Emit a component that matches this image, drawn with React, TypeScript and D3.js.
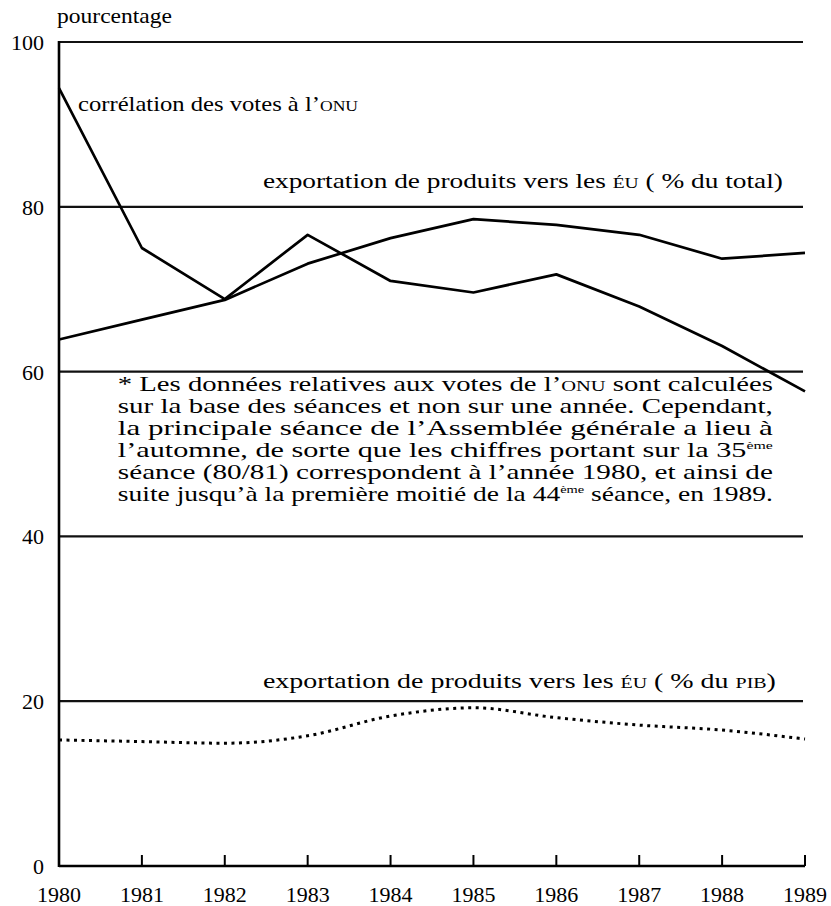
import React, { useEffect, useRef } from 'react'
import * as d3 from 'd3'

const years = [1980, 1981, 1982, 1983, 1984, 1985, 1986, 1987, 1988, 1989]
const unVotes = [94.4, 75.0, 68.8, 76.6, 71.0, 69.6, 71.8, 67.9, 63.1, 57.6]
const exportsTotal = [63.9, 66.3, 68.7, 73.1, 76.2, 78.5, 77.8, 76.6, 73.7, 74.4]
const exportsGdp = [15.3, 15.1, 14.9, 15.8, 18.2, 19.2, 18.0, 17.1, 16.5, 15.4]
const yTicks = [0, 20, 40, 60, 80, 100]

const footnote = [
  ['* Les données relatives aux votes de l’', 'ONU', ' sont calculées'],
  ['sur la base des séances et non sur une année. Cependant,'],
  ['la principale séance de l’Assemblée générale a lieu à'],
  ['l’automne, de sorte que les chiffres portant sur la 35', '^ème'],
  ['séance (80/81) correspondent à l’année 1980, et ainsi de'],
  ['suite jusqu’à la première moitié de la 44', '^ème', ' séance, en 1989.'],
]

const FONT = '"Liberation Serif", "Times New Roman", serif'

export default function App() {
  const svgRef = useRef<SVGSVGElement>(null)

  useEffect(() => {
    if (!svgRef.current) return
    const svg = d3.select(svgRef.current)
    svg.selectAll('*').remove()

    const W = 831
    const H = 906
    const left = 59
    const right = 805
    const top = 42
    const bottom = 866

    svg.attr('width', W).attr('height', H)

    const x = d3.scaleLinear().domain([1980, 1989]).range([left, right])
    const y = d3.scaleLinear().domain([0, 100]).range([bottom, top])

    const g = svg.append('g').attr('font-family', FONT).style('fill', '#000')

    // horizontal rules
    g.selectAll('line.grid')
      .data(yTicks.filter(t => t > 0))
      .enter()
      .append('line')
      .attr('x1', left)
      .attr('x2', right - 2)
      .attr('y1', d => y(d))
      .attr('y2', d => y(d))
      .attr('stroke', '#111')
      .attr('stroke-width', 2.2)

    // axes
    g.append('line')
      .attr('x1', left).attr('x2', left)
      .attr('y1', y(100) - 1).attr('y2', y(0) + 1)
      .attr('stroke', '#000').attr('stroke-width', 2.6)
    g.append('line')
      .attr('x1', left).attr('x2', right)
      .attr('y1', y(0)).attr('y2', y(0))
      .attr('stroke', '#000').attr('stroke-width', 2.6)

    // ticks pointing up
    g.selectAll('line.tick')
      .data(years.slice(1))
      .enter()
      .append('line')
      .attr('x1', d => x(d)).attr('x2', d => x(d))
      .attr('y1', y(0)).attr('y2', y(0) - 11)
      .attr('stroke', '#000').attr('stroke-width', 2)

    g.selectAll('text.ylab')
      .data(yTicks)
      .enter()
      .append('text')
      .attr('x', 44)
      .attr('y', d => y(d) + 8)
      .attr('text-anchor', 'end')
      .style('font-size', '22px')
      .text(d => d)

    g.selectAll('text.xlab')
      .data(years)
      .enter()
      .append('text')
      .attr('x', d => x(d))
      .attr('y', 902)
      .attr('text-anchor', 'middle')
      .style('font-size', '22px')
      .text(d => d)

    g.append('text')
      .attr('x', 57)
      .attr('y', 23)
      .attr('textLength', 115)
      .attr('lengthAdjust', 'spacingAndGlyphs')
      .style('font-size', '21px')
      .text('pourcentage')

    const line = (vals: number[]) =>
      d3.line<number>()
        .x((_, i) => x(years[i]))
        .y(d => y(d))(vals)

    g.append('path')
      .attr('d', line(unVotes))
      .attr('fill', 'none')
      .attr('stroke', '#000')
      .attr('stroke-width', 2.7)
      .attr('stroke-linejoin', 'round')

    g.append('path')
      .attr('d', line(exportsTotal))
      .attr('fill', 'none')
      .attr('stroke', '#000')
      .attr('stroke-width', 2.7)
      .attr('stroke-linejoin', 'round')

    g.append('path')
      .attr('d', d3.line<number>()
        .x((_, i) => x(years[i]))
        .y(d => y(d))
        .curve(d3.curveMonotoneX)(exportsGdp))
      .attr('fill', 'none')
      .attr('stroke', '#000')
      .attr('stroke-width', 3)
      .attr('stroke-dasharray', '3 4.5')

    // series labels
    const label = (xv: number, yv: number, width: number, parts: [string, boolean][]) => {
      const t = g.append('text')
        .attr('x', x(xv))
        .attr('y', y(yv))
        .attr('textLength', width)
        .attr('lengthAdjust', 'spacingAndGlyphs')
        .style('font-size', '21px')
      parts.forEach(([s, small]) => {
        const sp = t.append('tspan').text(s)
        if (small) sp.style('font-size', '15px')
      })
    }
    label(1980.23, 91.6, 280, [['corrélation des votes à l’', false], ['ONU', true]])
    label(1982.46, 82.3, 520, [['exportation de produits vers les ', false], ['ÉU', true], [' ( % du total)', false]])
    label(1982.46, 21.6, 513, [['exportation de produits vers les ', false], ['ÉU', true], [' (  % du ', false], ['PIB', true], [')', false]])

    // footnote
    footnote.forEach((parts, i) => {
      const t = g.append('text')
        .attr('x', x(1980.71))
        .attr('y', y(57.6) + i * 22)
        .attr('textLength', 655)
        .attr('lengthAdjust', 'spacingAndGlyphs')
        .style('font-size', '21px')
      let raised = false
      parts.forEach(p => {
        if (p === 'ONU') {
          t.append('tspan').style('font-size', '15px').text(p)
        } else if (p.startsWith('^')) {
          t.append('tspan').attr('dy', -8).style('font-size', '11px').text(p.slice(1))
          raised = true
        } else {
          const sp = t.append('tspan').text(p)
          if (raised) { sp.attr('dy', 8); raised = false }
        }
      })
    })
  }, [])

  return (
    <div style={{ position: 'absolute', left: 0, top: 0, background: '#fff' }}>
      <svg ref={svgRef} style={{ display: 'block' }}></svg>
    </div>
  )
}
